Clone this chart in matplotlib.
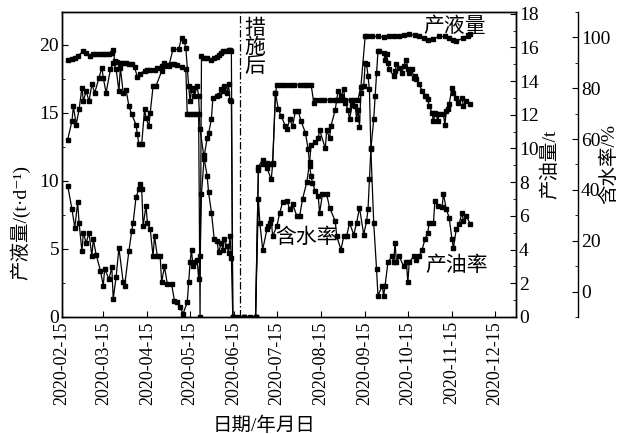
import matplotlib
matplotlib.use("Agg")
import matplotlib.pyplot as plt
import matplotlib.dates as mdates
from matplotlib.ticker import MultipleLocator
import pandas as pd

plt.rcParams['font.family'] = ['Liberation Serif', 'Noto Sans CJK SC', 'DejaVu Sans']

# 产液量 (t/d), left axis
liq_dates = ["2020-02-19","2020-02-22","2020-02-24","2020-02-26","2020-03-01","2020-03-03","2020-03-06","2020-03-08",
             "2020-03-10","2020-03-13","2020-03-15","2020-03-17","2020-03-19","2020-03-21","2020-03-22","2020-03-23",
             "2020-03-25","2020-03-27","2020-03-29","2020-03-31","2020-04-02","2020-04-04","2020-04-06","2020-04-08",
             "2020-04-10","2020-04-13","2020-04-15","2020-04-17","2020-04-20","2020-04-22","2020-04-25","2020-04-27",
             "2020-04-30","2020-05-02","2020-05-04","2020-05-06","2020-05-09","2020-05-12","2020-05-13","2020-05-15",
             "2020-05-17","2020-05-19","2020-05-21","2020-05-22","2020-05-23","2020-05-25","2020-05-27","2020-05-30",
             "2020-06-01","2020-06-03","2020-06-04","2020-06-06","2020-06-07","2020-06-09","2020-06-11","2020-06-12",
             "2020-06-13","2020-06-14","2020-06-18","2020-06-22","2020-06-26","2020-06-30","2020-07-02","2020-07-05",
             "2020-07-08","2020-07-10","2020-07-12","2020-07-14","2020-07-15","2020-07-18","2020-07-21","2020-07-24",
             "2020-07-27","2020-07-31","2020-08-03","2020-08-05","2020-08-08","2020-08-10","2020-08-11","2020-08-14",
             "2020-08-17","2020-08-21","2020-08-25","2020-08-28","2020-09-01","2020-09-05","2020-09-07","2020-09-10",
             "2020-09-12","2020-09-15","2020-09-16","2020-09-20","2020-09-24","2020-09-28","2020-10-02","2020-10-05",
             "2020-10-09","2020-10-12","2020-10-16","2020-10-20","2020-10-23","2020-10-26","2020-10-29","2020-11-02",
             "2020-11-06","2020-11-10","2020-11-13","2020-11-16","2020-11-18","2020-11-23","2020-11-26","2020-11-28"]
liq_vals = [18.9,18.95,19.0,19.15,19.55,19.4,19.2,19.3,
            19.3,19.35,19.35,19.35,19.35,19.4,19.6,18.8,
            18.7,18.65,18.65,18.65,18.6,18.6,18.35,17.6,
            17.85,18.1,18.15,18.15,18.15,18.3,18.4,18.45,
            18.5,18.55,18.6,18.5,18.35,18.2,14.9,14.9,
            14.9,14.9,14.9,0.0,19.15,19.0,19.0,18.9,
            19.0,19.1,19.25,19.4,19.5,19.5,19.6,19.6,
            19.55,0.0,0.0,0.0,0.0,0.0,11.05,11.55,
            11.3,11.2,11.3,16.45,17.05,17.05,17.05,17.05,
            17.05,17.05,17.05,17.05,17.05,15.7,15.95,15.95,
            15.95,15.95,15.95,15.95,15.95,15.95,15.95,15.95,
            16.9,20.6,20.6,20.6,20.6,20.55,20.6,20.6,
            20.65,20.7,20.75,20.7,20.6,20.5,20.35,20.45,
            20.6,20.6,20.5,20.35,20.25,20.5,20.6,20.75]

# 含水率 (%), third axis
wc_dates = ["2020-02-19","2020-02-22","2020-02-23","2020-02-25","2020-02-27","2020-02-29","2020-03-01","2020-03-03",
            "2020-03-05","2020-03-07","2020-03-09","2020-03-12","2020-03-14","2020-03-15","2020-03-17","2020-03-20",
            "2020-03-22","2020-03-24","2020-03-26","2020-03-27","2020-03-29","2020-03-31","2020-04-02","2020-04-04",
            "2020-04-07","2020-04-08","2020-04-09","2020-04-11","2020-04-13","2020-04-14","2020-04-16","2020-04-17",
            "2020-04-19","2020-04-21","2020-04-25","2020-04-27","2020-04-30","2020-05-03","2020-05-07","2020-05-09",
            "2020-05-11","2020-05-12","2020-05-14","2020-05-15","2020-05-16","2020-05-17","2020-05-18","2020-05-20",
            "2020-05-21","2020-05-22","2020-05-25","2020-05-27","2020-05-28","2020-05-30","2020-06-01","2020-06-03",
            "2020-06-04","2020-06-06","2020-06-07","2020-06-08","2020-06-10","2020-06-11","2020-06-12","2020-06-13",
            "2020-06-14","2020-06-22","2020-06-30",
            "2020-07-02","2020-07-05","2020-07-08","2020-07-11","2020-07-12","2020-07-14","2020-07-16","2020-07-18",
            "2020-07-21","2020-07-22","2020-07-24","2020-07-26","2020-07-28","2020-07-30","2020-08-01","2020-08-04",
            "2020-08-06","2020-08-07","2020-08-08","2020-08-09","2020-08-11","2020-08-13","2020-08-14","2020-08-16",
            "2020-08-19","2020-08-21","2020-08-25","2020-08-26","2020-08-29","2020-08-31","2020-09-02","2020-09-04",
            "2020-09-07","2020-09-09","2020-09-11","2020-09-14","2020-09-16","2020-09-17","2020-09-18","2020-09-19",
            "2020-09-21","2020-09-22","2020-09-23","2020-09-24","2020-09-25","2020-09-28","2020-09-29","2020-09-30",
            "2020-10-01","2020-10-02","2020-10-05","2020-10-06","2020-10-07","2020-10-09","2020-10-11","2020-10-12",
            "2020-10-14","2020-10-15","2020-10-16","2020-10-18","2020-10-19","2020-10-20","2020-10-21","2020-10-23",
            "2020-10-25","2020-10-27","2020-10-28","2020-10-29","2020-10-30","2020-11-01","2020-11-02","2020-11-03",
            "2020-11-04","2020-11-05","2020-11-06","2020-11-09","2020-11-10","2020-11-11","2020-11-12","2020-11-13",
            "2020-11-15","2020-11-16","2020-11-18","2020-11-19","2020-11-22","2020-11-23","2020-11-25","2020-11-28"]
wc_vals = [59.8,67.0,73.0,65.7,71.7,80.2,74.9,78.9,
           74.9,81.5,78.2,84.1,88.1,84.1,78.2,87.4,
           90.0,87.7,78.9,88.1,78.2,79.5,73.0,69.7,
           65.7,61.8,57.9,57.9,71.7,68.4,65.1,70.4,
           80.8,80.8,86.7,90.0,88.7,95.3,95.3,99.9,
           98.5,95.9,80.8,74.9,79.5,80.2,76.9,80.8,
           76.9,63.8,52.0,45.4,39.0,31.1,20.5,19.8,
           15.4,19.2,16.5,20.5,17.8,15.2,21.8,13.4,
           -10.0,-10.0,-10.0,
           48.0,50.0,48.8,44.1,50.0,78.2,71.7,69.0,
           65.1,63.8,67.7,65.1,71.0,71.0,67.0,62.5,
           55.9,49.3,45.4,42.8,39.5,37.5,31.0,38.2,
           38.2,33.0,27.7,21.8,16.5,21.8,21.8,27.0,
           22.4,27.0,33.0,22.4,27.7,32.3,44.1,55.9,
           67.7,76.9,86.0,94.6,94.6,94.0,91.3,93.3,
           90.0,87.4,84.8,86.7,89.4,88.1,86.1,88.7,
           91.3,87.4,86.1,87.4,84.1,84.8,83.5,81.5,
           78.9,76.9,76.9,75.6,73.0,70.3,67.0,70.3,
           69.7,67.0,69.7,69.7,65.7,71.0,71.7,73.6,
           80.2,78.2,76.3,74.3,76.3,73.0,74.9,73.6]

# 产油量 (t), right axis
oil_dates = ["2020-02-19","2020-02-22","2020-02-24","2020-02-26","2020-02-27","2020-02-29","2020-03-01","2020-03-03",
             "2020-03-05","2020-03-07","2020-03-08","2020-03-10","2020-03-13","2020-03-15","2020-03-16","2020-03-19",
             "2020-03-21","2020-03-22","2020-03-24","2020-03-26","2020-03-29","2020-03-30","2020-04-02","2020-04-04",
             "2020-04-05","2020-04-07","2020-04-09","2020-04-10","2020-04-11","2020-04-12","2020-04-14","2020-04-15",
             "2020-04-17","2020-04-19","2020-04-20","2020-04-22","2020-04-24","2020-04-25","2020-04-27","2020-04-29",
             "2020-05-02","2020-05-04","2020-05-06","2020-05-08","2020-05-10","2020-05-13","2020-05-14","2020-05-15",
             "2020-05-16","2020-05-17","2020-05-18","2020-05-20","2020-05-21","2020-05-22","2020-05-23","2020-05-25",
             "2020-05-27","2020-05-28","2020-05-30","2020-05-31","2020-06-03","2020-06-04","2020-06-06","2020-06-07",
             "2020-06-08","2020-06-10","2020-06-11","2020-06-12","2020-06-13","2020-06-14","2020-06-22","2020-06-30",
             "2020-07-02","2020-07-03","2020-07-05","2020-07-08","2020-07-09","2020-07-10","2020-07-11","2020-07-12",
             "2020-07-15","2020-07-17","2020-07-19","2020-07-22","2020-07-24","2020-07-26","2020-07-29","2020-07-31",
             "2020-08-02","2020-08-05","2020-08-07","2020-08-08","2020-08-11","2020-08-13","2020-08-14","2020-08-18",
             "2020-08-19","2020-08-21","2020-08-22","2020-08-25","2020-08-26","2020-08-27","2020-08-29","2020-08-31",
             "2020-09-01","2020-09-03","2020-09-04","2020-09-06","2020-09-08","2020-09-09","2020-09-10","2020-09-11",
             "2020-09-12","2020-09-14","2020-09-15","2020-09-16","2020-09-17","2020-09-18","2020-09-19","2020-09-21",
             "2020-09-23","2020-09-24","2020-09-27","2020-09-28","2020-09-29","2020-10-01","2020-10-04","2020-10-05",
             "2020-10-06","2020-10-07","2020-10-09","2020-10-12","2020-10-14","2020-10-15","2020-10-16","2020-10-19",
             "2020-10-21","2020-10-23","2020-10-25","2020-10-27","2020-10-29","2020-10-30","2020-11-02","2020-11-03",
             "2020-11-05","2020-11-08","2020-11-09","2020-11-11","2020-11-13","2020-11-15","2020-11-16","2020-11-18",
             "2020-11-20","2020-11-22","2020-11-23","2020-11-25","2020-11-28"]
oil_vals = [7.8,6.4,5.3,6.8,5.6,3.9,5.0,4.4,
            5.0,3.6,4.6,3.7,2.75,1.86,2.85,2.25,
            2.95,1.07,2.36,4.1,2.06,1.86,3.9,5.1,
            5.6,7.1,7.6,7.9,7.6,5.4,6.6,5.6,
            5.2,3.6,4.8,3.6,3.6,2.06,3.0,1.96,
            1.96,0.97,0.87,0.58,0.18,0.87,2.06,3.25,
            4.0,3.0,3.25,3.4,2.25,3.6,7.3,9.6,
            10.6,10.9,11.75,13.0,13.1,13.2,13.5,13.4,
            13.7,13.3,13.8,12.9,12.8,0.0,0.0,0.0,
            7.0,5.6,4.0,5.2,5.4,5.6,5.8,4.8,
            5.4,6.2,6.8,6.9,6.4,6.7,6.0,6.0,
            7.0,8.0,9.2,10.2,10.4,10.6,11.1,10.0,
            11.1,10.6,11.35,12.3,12.9,13.4,13.1,13.5,
            12.7,12.3,11.75,12.6,12.5,11.75,12.3,11.3,
            13.3,13.7,15.1,15.0,14.3,13.5,10.0,5.6,
            2.85,1.26,1.86,1.26,1.86,3.25,3.6,3.25,
            4.4,3.25,3.6,3.0,3.25,2.06,3.25,3.6,
            3.4,3.6,4.0,4.6,5.0,5.6,5.6,6.9,
            6.6,6.5,7.3,6.4,5.9,4.6,4.1,5.2,
            5.5,6.2,5.7,6.0,5.5]

month_ticks = ["2020-02-15","2020-03-15","2020-04-15","2020-05-15","2020-06-15","2020-07-15",
               "2020-08-15","2020-09-15","2020-10-15","2020-11-15","2020-12-15"]
measure_date = "2020-06-19"

fig = plt.figure(figsize=(6.23, 4.34), dpi=100)
ax = fig.add_axes([0.0995, 0.2696, 0.7288, 0.7028])
ax2 = ax.twinx()
ax3 = ax.twinx()
ax3.spines['right'].set_position(('axes', 1.1366))
for s in ['left', 'top', 'bottom']:
    ax3.spines[s].set_visible(False)

style = dict(color='black', lw=0.9, marker='s', ms=2.2, mfc='black', mec='black')
ax.plot(pd.to_datetime(liq_dates), liq_vals, **style)
ax2.plot(pd.to_datetime(oil_dates), oil_vals, **style)
ax3.plot(pd.to_datetime(wc_dates), wc_vals, **style)

ax.axvline(pd.Timestamp(measure_date), color='black', lw=0.9, ls=(0, (6, 2, 1.2, 2)))

ax.set_xlim(pd.Timestamp("2020-02-15"), pd.Timestamp("2020-12-30"))
ax.set_ylim(0, 22.4)
ax2.set_ylim(0, 18.1)
ax3.set_ylim(-10, 110)

ax.set_xticks(pd.to_datetime(month_ticks))
ax.xaxis.set_major_formatter(mdates.DateFormatter('%Y-%m-%d'))
ax.tick_params(axis='x', rotation=90, direction='in', labelsize=13, length=4, pad=3)
ax.yaxis.set_major_locator(MultipleLocator(5))
ax.yaxis.set_minor_locator(MultipleLocator(2.5))
ax.tick_params(axis='y', which='both', direction='in', labelsize=14, pad=2)
ax.tick_params(axis='y', which='major', length=4)
ax.tick_params(axis='y', which='minor', length=2.5)

ax2.yaxis.set_major_locator(MultipleLocator(2))
ax2.yaxis.set_minor_locator(MultipleLocator(1))
ax2.tick_params(axis='y', which='both', direction='in', labelsize=14, pad=2)
ax2.tick_params(axis='y', which='major', length=4)
ax2.tick_params(axis='y', which='minor', length=2.5)

ax3.yaxis.set_major_locator(MultipleLocator(20))
ax3.yaxis.set_minor_locator(MultipleLocator(10))
ax3.tick_params(axis='y', which='both', direction='in', labelsize=14, pad=2)
ax3.tick_params(axis='y', which='major', length=4)
ax3.tick_params(axis='y', which='minor', length=2.5)

for a in (ax, ax2, ax3):
    for sp in a.spines.values():
        sp.set_linewidth(1.0)

ax.set_ylabel('产液量/(t·d⁻¹)', fontsize=14)
ax.yaxis.set_label_coords(-0.0705, 0.31)
ax.set_xlabel('日期/年月日', fontsize=14)
ax.xaxis.set_label_coords(0.445, -0.325)
ax2.set_ylabel('产油量/t', fontsize=14)
ax2.yaxis.set_label_coords(1.055, 0.5)
ax3.set_ylabel('含水率/%', fontsize=14)
ax3.yaxis.set_label_coords(1.185, 0.5)

ax.text(pd.Timestamp("2020-06-22"), 21.8, '措\n施\n后', fontsize=15, va='top', ha='left', linespacing=0.95)
ax.text(pd.Timestamp("2020-11-17"), 21.25, '产液量', fontsize=15, va='center', ha='center')
ax.text(pd.Timestamp("2020-08-05"), 5.75, '含水率', fontsize=15, va='center', ha='center')
ax.text(pd.Timestamp("2020-11-18"), 3.75, '产油率', fontsize=15, va='center', ha='center')

fig.savefig('out.png', dpi=100)
